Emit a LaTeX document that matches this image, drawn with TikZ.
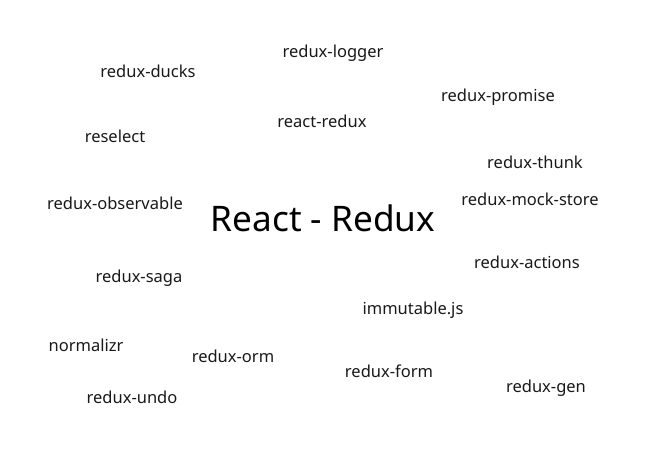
\documentclass[tikz,border=0pt]{standalone}
\usepackage{fontspec}
\setmainfont{Noto Sans}
\begin{document}
\begin{tikzpicture}[x=1pt,y=-1pt,
  lib/.style={anchor=base,inner sep=0pt,font=\fontsize{16.5}{19}\selectfont,text=black!90},
  title/.style={anchor=base,inner sep=0pt,font=\fontsize{35.2}{42}\selectfont,text=black}]
\useasboundingbox[fill=white] (0,0) rectangle (646,451);
\node[title] (main) at (323,231) {React - Redux};
\node[lib] (logger) at (333,57) {redux-logger};
\node[lib] (ducks) at (148,77) {redux-ducks};
\node[lib] (promise) at (498,101) {redux-promise};
\node[lib] (reselect) at (115,142) {reselect};
\node[lib] (reactredux) at (322,127) {react-redux};
\node[lib] (thunk) at (535,168) {redux-thunk};
\node[lib] (observable) at (115,209) {redux-observable};
\node[lib] (mock) at (530,205) {redux-mock-store};
\node[lib] (saga) at (139,282) {redux-saga};
\node[lib] (actions) at (527,268) {redux-actions};
\node[lib] (immutable) at (413,314) {immutable.js};
\node[lib] (normalizr) at (86,351) {normalizr};
\node[lib] (orm) at (233,362) {redux-orm};
\node[lib] (form) at (389,377) {redux-form};
\node[lib] (gen) at (546,392) {redux-gen};
\node[lib] (undo) at (132,403) {redux-undo};
\end{tikzpicture}
\end{document}
